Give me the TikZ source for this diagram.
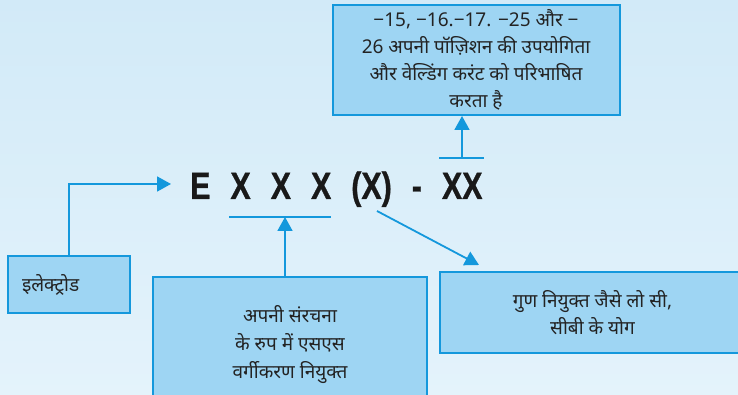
\documentclass[tikz,border=0pt]{standalone}
\usepackage{fontspec}
\usepackage{tikz}
\usetikzlibrary{arrows.meta, positioning, calc}
\usepackage{xcolor}
\newfontfamily\hindi[Script=Devanagari]{Noto Sans}
\newfontfamily\codefont[FakeStretch=0.8, BoldFeatures={FakeBold=0.8}]{Liberation Sans}
\definecolor{skyline}{RGB}{20,152,220}
\definecolor{skyfill}{RGB}{158,213,243}
\definecolor{bgtop}{RGB}{210,234,248}
\definecolor{bgbottom}{RGB}{228,243,251}
\definecolor{inkgray}{RGB}{35,35,35}

\begin{document}
\begin{tikzpicture}[x=1pt, y=-1pt,
  infobox/.style={draw=skyline, fill=skyfill, line width=2pt, text=inkgray,
    font=\hindi\fontsize{19}{27}\selectfont, align=center, inner sep=0pt},
  link/.style={skyline, line width=1.8pt},
  tip/.style={-{Triangle[length=14pt, width=15pt]}}]
  \useasboundingbox (0,0) rectangle (738,395);
  \fill[top color=bgtop, bottom color=bgbottom] (0,0) rectangle (738,395);

  % electrode code
  \node[anchor=base west, inner sep=0pt, text=black!90,
    font={\codefont\bfseries\fontsize{38}{38}\selectfont\spaceskip=20pt\relax}] (code) at (190,199)
    {E X X X (X) - XX};

  \node[infobox, minimum width=287, minimum height=110] (use) at (476,60)
    {−15, −16.−17. −25 और −\\26 अपनी पॉज़िशन की उपयोगिता\\और वेल्डिंग करंट को परिभाषित\\करता है};
  \node[infobox, minimum width=122, minimum height=57, text width=94pt, align=left] (elec) at (69,284.5)
    {इलेक्ट्रोड};
  \node[infobox, minimum width=274, minimum height=136, font=\hindi\fontsize{19}{28}\selectfont] (class) at (290,345)
    {अपनी संरचना\\के रुप में एसएस\\वर्गीकरण नियुक्त};
  \node[infobox, minimum width=305, minimum height=81] (props) at (592.5,312.5)
    {गुण नियुक्त जैसे लो सी,\\सीबी के योग};

  \coordinate (xxxL) at (229,217);
  \coordinate (xxxR) at (331,217);
  \coordinate (xxxM) at (285,217);
  \coordinate (twoL) at (439,158);
  \coordinate (twoR) at (484,158);
  \coordinate (twoM) at (462,158);
  \coordinate (eTip) at (171,184);
  \coordinate (paren) at (377,211);
  \coordinate (propsTip) at (479,265);

  \draw[link] (xxxL) -- (xxxR);
  \draw[link] (twoL) -- (twoR);
  \draw[link, tip] (elec.north) |- (eTip);
  \draw[link, tip] (class.north -| xxxM) -- (xxxM);
  \draw[link, tip] (twoM) -- (use.south -| twoM);
  \draw[link, tip] (paren) -- (propsTip);
\end{tikzpicture}
\end{document}
